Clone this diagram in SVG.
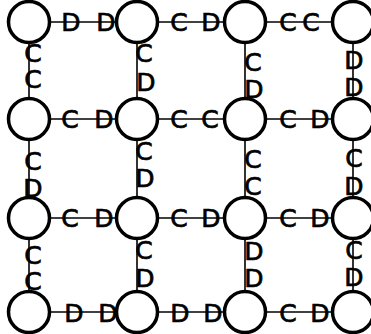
<svg xmlns="http://www.w3.org/2000/svg" width="371" height="334" viewBox="0 0 371 334">
<style>
.n{fill:#fff;stroke:#000;stroke-width:3.5}
.e{stroke:#000;stroke-width:1.6}
text{font-family:"DejaVu Sans",sans-serif;font-size:25px;fill:#000;stroke:#000;stroke-width:0.7;text-anchor:middle}
</style>
<rect width="371" height="334" fill="#fff"/>
<g id="edges">
<line class="e" x1="29" y1="22" x2="353" y2="22"/>
<line class="e" x1="29" y1="119" x2="353" y2="119"/>
<line class="e" x1="29" y1="218" x2="353" y2="218"/>
<line class="e" x1="29" y1="312" x2="353" y2="312"/>
<line class="e" x1="29" y1="22" x2="29" y2="312"/>
<line class="e" x1="137" y1="22" x2="137" y2="312"/>
<line class="e" x1="245" y1="22" x2="245" y2="312"/>
<line class="e" x1="353" y1="22" x2="353" y2="312"/>
<g id="labels">
<text x="71" y="31">D</text><text x="106" y="31">D</text>
<text x="179" y="31">C</text><text x="211" y="31">D</text>
<text x="288" y="31">C</text><text x="311" y="31">C</text>
<text x="70" y="128">C</text><text x="104" y="128">D</text>
<text x="179" y="128">C</text><text x="210" y="128">C</text>
<text x="288" y="128">C</text><text x="320" y="128">D</text>
<text x="70" y="227">C</text><text x="104" y="227">D</text>
<text x="179" y="227">C</text><text x="211" y="227">D</text>
<text x="288" y="227">C</text><text x="320" y="227">D</text>
<text x="74" y="322">D</text><text x="108" y="322">D</text>
<text x="180" y="322">D</text><text x="213" y="322">D</text>
<text x="288" y="322">C</text><text x="320" y="322">D</text>
<text x="33" y="62">C</text><text x="33" y="88">C</text>
<text x="144" y="62">C</text><text x="146" y="91">D</text>
<text x="253" y="71">C</text><text x="254" y="98">D</text>
<text x="354" y="69">D</text><text x="354" y="96">D</text>
<text x="33" y="170">C</text><text x="33" y="197">D</text>
<text x="144" y="160">C</text><text x="145" y="187">D</text>
<text x="253" y="168">C</text><text x="253" y="195">C</text>
<text x="354" y="167">C</text><text x="354" y="195">D</text>
<text x="33" y="264">C</text><text x="33" y="290">C</text>
<text x="144" y="259">C</text><text x="145" y="287">D</text>
<text x="254" y="260">D</text><text x="254" y="287">D</text>
<text x="354" y="259">C</text><text x="354" y="286">D</text>
</g>
</g>
<g id="n11"><circle class="n" cx="29" cy="22" r="20.5"/></g>
<g id="n12"><circle class="n" cx="137" cy="22" r="20.5"/></g>
<g id="n13"><circle class="n" cx="245" cy="22" r="20.5"/></g>
<g id="n14"><circle class="n" cx="353" cy="22" r="20.5"/></g>
<g id="n21"><circle class="n" cx="29" cy="119" r="20.5"/></g>
<g id="n22"><circle class="n" cx="137" cy="119" r="20.5"/></g>
<g id="n23"><circle class="n" cx="245" cy="119" r="20.5"/></g>
<g id="n24"><circle class="n" cx="353" cy="119" r="20.5"/></g>
<g id="n31"><circle class="n" cx="29" cy="218" r="20.5"/></g>
<g id="n32"><circle class="n" cx="137" cy="218" r="20.5"/></g>
<g id="n33"><circle class="n" cx="245" cy="218" r="20.5"/></g>
<g id="n34"><circle class="n" cx="353" cy="218" r="20.5"/></g>
<g id="n41"><circle class="n" cx="29" cy="312" r="20.5"/></g>
<g id="n42"><circle class="n" cx="137" cy="312" r="20.5"/></g>
<g id="n43"><circle class="n" cx="245" cy="312" r="20.5"/></g>
<g id="n44"><circle class="n" cx="353" cy="312" r="20.5"/></g>
</svg>
